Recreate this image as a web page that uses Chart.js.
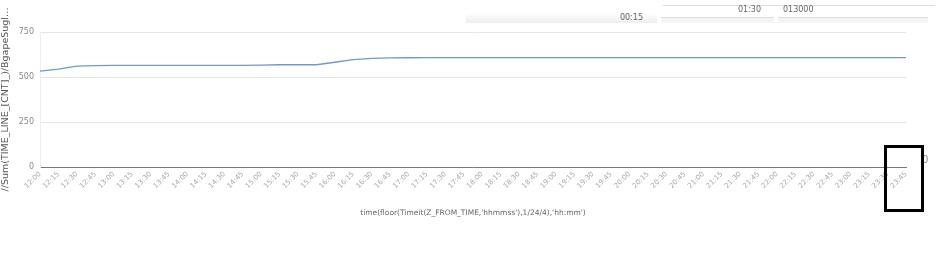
<!DOCTYPE html>
<html><head><meta charset="utf-8">
<script src="https://cdn.jsdelivr.net/npm/chart.js@4/dist/chart.umd.min.js"></script>
<style>
html,body{margin:0;padding:0;background:#fff;width:950px;height:257px;overflow:hidden;font-family:"DejaVu Sans",sans-serif;}
#wrap{position:absolute;left:0;top:0;width:950px;height:257px;}
.ov{position:absolute;font-size:8px;color:#666;}
</style></head><body>
<div id="wrap"><canvas id="c" width="950" height="257"></canvas></div>
<div class="ov" style="left:466px;top:13px;width:191px;height:10px;background:linear-gradient(#fff,#eee);text-align:right;"><span style="padding-right:14px;line-height:10px;">00:15</span></div>
<div class="ov" style="left:663px;top:5px;width:272px;height:0;border-top:1px solid #ddd;"></div>
<div class="ov" style="left:661px;top:6px;width:113px;height:11px;border-bottom:1px solid #ddd;text-align:right;line-height:8px;"><span style="padding-right:13px;">01:30</span></div>
<div class="ov" style="left:778px;top:6px;width:150px;height:11px;border-bottom:1px solid #ddd;line-height:8px;"><span style="padding-left:5px;">013000</span></div>
<div class="ov" style="left:661px;top:18px;width:113px;height:5px;background:#f4f4f4;"></div>
<div class="ov" style="left:778px;top:18px;width:150px;height:5px;background:#f4f4f4;"></div>
<div class="ov" style="left:922px;top:154px;font-size:10px;color:#888;">0</div>
<div style="position:absolute;left:884px;top:145px;width:34px;height:61px;border:3px solid #000;"></div>
<script>
const categories = ["12:00","12:15","12:30","12:45","13:00","13:15","13:30","13:45","14:00","14:15","14:30","14:45","15:00","15:15","15:30","15:45","16:00","16:15","16:30","16:45","17:00","17:15","17:30","17:45","18:00","18:15","18:30","18:45","19:00","19:15","19:30","19:45","20:00","20:15","20:30","20:45","21:00","21:15","21:30","21:45","22:00","22:15","22:30","22:45","23:00","23:15","23:30","23:45"];
const seriesValues = [533,544,560,563,565,565,565,565,565,565,565,565,566,568,568,568,582,596,604,606,607,608,608,608,608,608,608,608,608,608,608,608,608,608,608,608,608,608,608,608,608,608,608,608,608,608,608,608];
const yTicks = [0,250,500,750];
const xTitle = "time(floor(Timeit(Z_FROM_TIME,'hhmmss'),1/24/4),'hh:mm')";
const yTitle = "//Sum(TIME_LINE_[CNT]_)/BgapeSugl…";

new Chart(document.getElementById('c'), {
  type: 'line',
  data: { labels: categories, datasets: [{ data: seriesValues, borderColor: '#7199c9', borderWidth: 1.3, pointRadius: 0, tension: 0, fill: false }] },
  options: {
    responsive: false, animation: false,
    layout: { padding: { top: 32, right: 44, left: 0, bottom: 35 } },
    plugins: { legend: { display: false }, tooltip: { enabled: false } },
    scales: {
      x: {
        offset: false,
        grid: { display: false, drawTicks: false },
        border: { display: true, color: '#777', width: 1 },
        ticks: { color: '#aaa', font: { size: 7, family: 'DejaVu Sans' }, minRotation: 45, maxRotation: 45, autoSkip: false, padding: 3 },
        title: { display: true, text: xTitle, color: '#666', font: { size: 7.5, family: 'DejaVu Sans' }, padding: { top: 4, bottom: 4 } },
        afterFit: s => { s.height = 55; }
      },
      y: {
        min: 0, max: 750,
        afterBuildTicks: s => { s.ticks = yTicks.map(v => ({ value: v })); },
        grid: { color: '#e6e6e6', drawTicks: false },
        border: { display: true, color: '#eeeeee' },
        ticks: { color: '#888', font: { size: 8, family: 'DejaVu Sans' }, padding: 6 },
        title: { display: true, text: yTitle, color: '#555', font: { size: 9.5, family: 'DejaVu Sans' }, padding: 0 },
        afterFit: s => { s.width = 40; }
      }
    }
  }
});
</script>
</body></html>
